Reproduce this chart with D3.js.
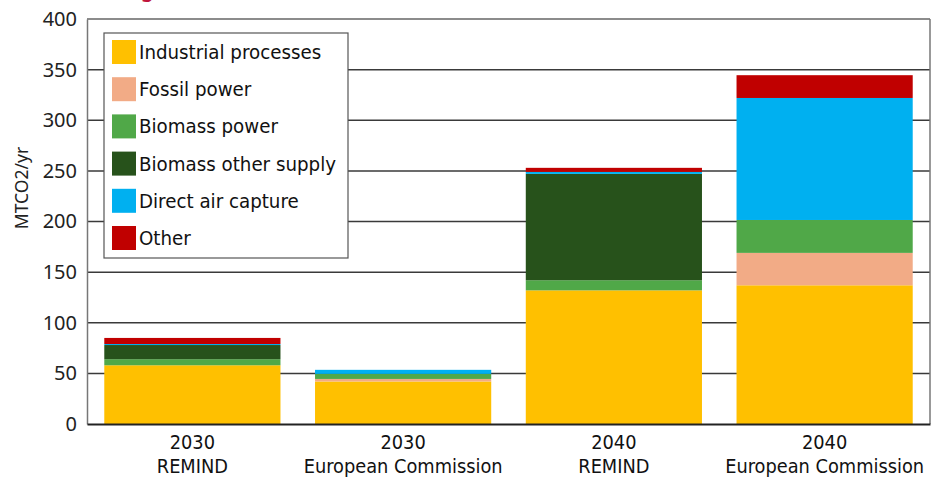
<!DOCTYPE html>
<html>
<head>
<meta charset="utf-8">
<script src="https://cdn.jsdelivr.net/npm/d3@7"></script>
<style>
  html, body { margin: 0; padding: 0; background: #fff; }
  svg { display: block; }
</style>
</head>
<body>
<svg id="chart" width="933" height="479"></svg>
<script>
// ---- data ----
const years = ["2030", "2030", "2040", "2040"];
const sources = ["REMIND", "European Commission", "REMIND", "European Commission"];
const seriesNames = ["Industrial processes", "Fossil power", "Biomass power", "Biomass other supply", "Direct air capture", "Other"];
const industrialProcesses = [58, 42, 132, 137];
const fossilPower = [0, 2.5, 0, 32];
const biomassPower = [6, 5, 10, 32.5];
const biomassOtherSupply = [14, 0, 105, 0];
const directAirCapture = [1, 4, 2, 120.5];
const other = [6, 0, 4, 22.5];
const yTicks = [0, 50, 100, 150, 200, 250, 300, 350, 400];
const colors = ["#FFC000", "#F2AB86", "#50A848", "#27521B", "#00B0F0", "#C00000"];

(function () {
const seriesValues = [industrialProcesses, fossilPower, biomassPower, biomassOtherSupply, directAirCapture, other];
const keys = years.map((y, i) => i);
const table = keys.map(i => {
  const row = { key: i };
  seriesNames.forEach((s, j) => row[s] = seriesValues[j][i]);
  return row;
});

const svg = d3.select("#chart");
const pLeft = 87, pRight = 930, pTop = 19, pBottom = 424;
const condensed = "'Liberation Sans Narrow', 'DejaVu Sans Condensed', sans-serif";

const x = d3.scaleBand().domain(keys).range([pLeft, pRight]).paddingInner(0.164).paddingOuter(0.082);
const y = d3.scaleLinear().domain([0, 400]).range([pBottom, pTop]);

// red title fragment at very top (clipped in reference)
svg.append("text").attr("x", 141).attr("y", -3)
  .attr("font-family", "Noto Sans").attr("font-weight", "bold").attr("font-size", 20)
  .attr("fill", "#C0143C").text("g");

// gridlines
svg.append("g").selectAll("line").data(yTicks.filter(t => t > 0)).join("line")
  .attr("x1", pLeft).attr("x2", pRight)
  .attr("y1", d => y(d)).attr("y2", d => y(d))
  .attr("stroke", d => d === 400 ? "#666" : "#3a3a3a").attr("stroke-width", 1.5);

// right border
svg.append("line").attr("x1", pRight).attr("x2", pRight).attr("y1", pTop).attr("y2", pBottom)
  .attr("stroke", "#777").attr("stroke-width", 1.5);

// bars
const stack = d3.stack().keys(seriesNames);
const stacked = stack(table);
svg.append("g").selectAll("g").data(stacked).join("g")
  .attr("fill", (d, i) => colors[i])
  .selectAll("rect").data(d => d).join("rect")
  .attr("x", d => x(d.data.key))
  .attr("width", x.bandwidth())
  .attr("y", d => y(d[1]))
  .attr("height", d => Math.max(0, y(d[0]) - y(d[1])));

// y axis
const yAxis = d3.axisLeft(y).tickValues(yTicks).tickSize(0).tickPadding(10);
const ya = svg.append("g").attr("transform", `translate(${pLeft},0)`).call(yAxis);
ya.select(".domain").attr("stroke", "#777").attr("stroke-width", 1.5);
ya.selectAll("text").attr("font-family", "Noto Sans").attr("font-size", 20).attr("fill", "#222");

// x axis
const xAxis = d3.axisBottom(x).tickSize(0).tickFormat(() => "");
const xa = svg.append("g").attr("transform", `translate(0,${pBottom})`).call(xAxis);
xa.select(".domain").attr("stroke", "#222").attr("stroke-width", 2);
xa.selectAll(".tick").each(function(d) {
  const t = d3.select(this).select("text").attr("y", 0).attr("dy", null)
    .attr("font-family", condensed)
    .attr("font-size", 19.8).attr("fill", "#111");
  t.append("tspan").attr("x", 0).attr("y", 25).text(years[d]);
  t.append("tspan").attr("x", 0).attr("y", 49).text(sources[d]);
});

// y title
svg.append("text")
  .attr("transform", "translate(28,188) rotate(-90)")
  .attr("text-anchor", "middle")
  .attr("font-family", "Noto Sans").attr("font-size", 17.5).attr("fill", "#222")
  .text("MTCO2/yr");

// legend
const lg = svg.append("g");
lg.append("rect").attr("x", 104).attr("y", 33).attr("width", 244).attr("height", 225)
  .attr("fill", "#fff").attr("stroke", "#555").attr("stroke-width", 1.2);
const items = lg.selectAll("g.item").data(seriesNames).join("g").attr("class", "item")
  .attr("transform", (d, i) => `translate(112,${40 + i * 37.2})`);
items.append("rect").attr("width", 24).attr("height", 24).attr("fill", (d, i) => colors[i]);
items.append("text").attr("x", 27).attr("y", 19)
  .attr("font-family", condensed)
  .attr("font-size", 20.3).attr("fill", "#111").text(d => d);
})();
</script>
</body>
</html>
